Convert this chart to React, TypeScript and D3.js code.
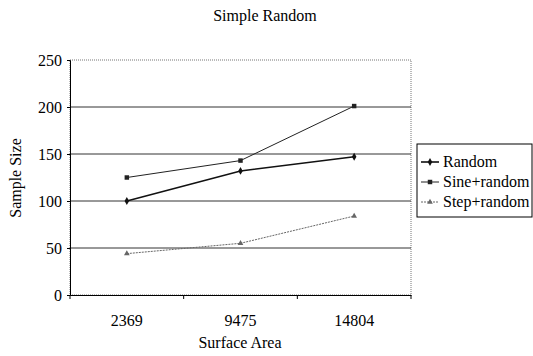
import React, { useEffect, useRef } from 'react';
import * as d3 from 'd3';

const categories = ['2369', '9475', '14804'];
const randomVals = [100, 132, 147];
const sineVals = [125, 143, 201];
const stepVals = [44, 55, 84];
const yTicks = [0, 50, 100, 150, 200, 250];

const series = [
  { name: 'Random', values: randomVals, color: '#111', width: 1.6, dash: null, symbol: d3.symbolDiamond, size: 18 },
  { name: 'Sine+random', values: sineVals, color: '#222', width: 1, dash: null, symbol: d3.symbolSquare, size: 20 },
  { name: 'Step+random', values: stepVals, color: '#666', width: 1, dash: '2,1', symbol: d3.symbolTriangle, size: 14 },
];

const App = () => {
  const svgRef = useRef<SVGSVGElement>(null);

  useEffect(() => {
    const svg = d3.select(svgRef.current);
    svg.selectAll('*').remove();

    const width = 533;
    const height = 356;
    const margin = { top: 60, right: 122, bottom: 61, left: 70 };
    const font = '"Liberation Serif", "Times New Roman", serif';
    const fs = 16;

    svg.attr('width', width).attr('height', height).style('font-family', font);

    const x = d3.scaleBand().domain(categories).range([margin.left, width - margin.right]);
    const y = d3.scaleLinear().domain([0, 250]).range([height - margin.bottom, margin.top]);

    // plot border (dotted)
    svg.append('rect')
      .attr('x', margin.left).attr('y', margin.top)
      .attr('width', width - margin.right - margin.left)
      .attr('height', height - margin.bottom - margin.top)
      .attr('fill', 'none').attr('stroke', '#777').attr('stroke-dasharray', '1,1');

    // gridlines
    svg.append('g').selectAll('line')
      .data(yTicks.filter(d => d > 0 && d < 250))
      .enter().append('line')
      .attr('x1', margin.left).attr('x2', width - margin.right)
      .attr('y1', d => y(d)).attr('y2', d => y(d))
      .attr('stroke', '#333').attr('stroke-width', 1);

    // axes
    const yAxis = d3.axisLeft(y).tickValues(yTicks).tickSize(3).tickPadding(5);
    const gy = svg.append('g').attr('transform', `translate(${margin.left},0)`).call(yAxis);
    gy.select('.domain').attr('stroke', '#000');
    gy.selectAll('text').attr('font-size', fs).attr('font-family', font).attr('fill', '#000');

    const xAxis = d3.axisBottom(x).tickSize(0).tickPadding(20);
    const gx = svg.append('g').attr('transform', `translate(0,${height - margin.bottom})`).call(xAxis);
    gx.select('.domain').attr('stroke', '#000');
    gx.selectAll('text').attr('font-size', fs).attr('font-family', font).attr('fill', '#000');

    // category boundary ticks
    const bounds = categories.map(c => x(c) as number).concat([width - margin.right]);
    svg.append('g').selectAll('line').data(bounds).enter().append('line')
      .attr('x1', d => d).attr('x2', d => d)
      .attr('y1', height - margin.bottom).attr('y2', height - margin.bottom + 4)
      .attr('stroke', '#000');

    const cx = (i: number) => (x(categories[i]) as number) + x.bandwidth() / 2;
    const line = d3.line<number>().x((d, i) => cx(i)).y(d => y(d));

    series.forEach(s => {
      const p = svg.append('path').datum(s.values)
        .attr('d', line).attr('fill', 'none')
        .attr('stroke', s.color).attr('stroke-width', s.width);
      if (s.dash) p.attr('stroke-dasharray', s.dash);
      svg.append('g').selectAll('path').data(s.values).enter().append('path')
        .attr('d', d3.symbol().type(s.symbol).size(s.size)())
        .attr('transform', (d, i) => `translate(${cx(i)},${y(d)})`)
        .attr('fill', s.color);
    });

    // title and labels
    svg.append('text').attr('x', 265).attr('y', 21).attr('text-anchor', 'middle')
      .attr('font-size', fs).text('Simple Random');
    svg.append('text').attr('x', 240).attr('y', 348).attr('text-anchor', 'middle')
      .attr('font-size', fs).text('Surface Area');
    svg.append('text').attr('transform', 'translate(21,178) rotate(-90)').attr('text-anchor', 'middle')
      .attr('font-size', fs).text('Sample Size');

    // legend
    const lg = svg.append('g').attr('transform', 'translate(417,144)');
    lg.append('rect').attr('width', 115).attr('height', 73)
      .attr('fill', '#fff').attr('stroke', '#000');
    series.forEach((s, i) => {
      const ly = 18 + i * 20;
      const l = lg.append('line').attr('x1', 4).attr('x2', 22).attr('y1', ly).attr('y2', ly)
        .attr('stroke', s.color).attr('stroke-width', s.width);
      if (s.dash) l.attr('stroke-dasharray', s.dash);
      lg.append('path').attr('d', d3.symbol().type(s.symbol).size(s.size)())
        .attr('transform', `translate(13,${ly})`).attr('fill', s.color);
      lg.append('text').attr('x', 26).attr('y', ly + 5).attr('font-size', fs).text(s.name);
    });
  }, []);

  return (
    <div style={{ position: 'absolute', left: 0, top: 0 }}>
      <svg ref={svgRef}></svg>
    </div>
  );
};

export default App;
